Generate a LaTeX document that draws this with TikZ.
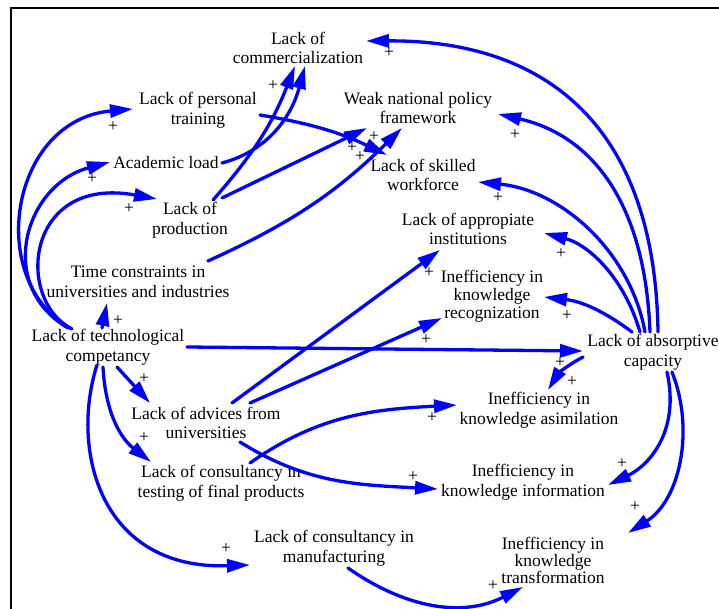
\documentclass[tikz,border=0pt]{standalone}
\usepackage{fontspec}
\setmainfont{Liberation Serif}
\usetikzlibrary{arrows.meta,calc}

\begin{document}
\begin{tikzpicture}
  [x=1pt,y=1pt,
   var/.style={align=center,inner sep=1pt,font=\fontsize{17.5}{19.5}\selectfont},
   sgn/.style={inner sep=0pt,font=\fontsize{17.5}{19.5}\selectfont},
   link/.style={draw=blue,line width=3.3pt,line cap=round,-{Triangle[length=23pt,width=13pt]}}]

  \useasboundingbox (0,0) rectangle (719,-609);
  \draw[line width=2pt] (11,-609) -- (11,-8) -- (719,-8);

  \node[var] (comm) at (298,-48) {Lack of\\commercialization};
  \node[var] (train) at (198,-110) {Lack of personal\\training};
  \node[var] (policy) at (418,-108) {Weak national policy\\framework};
  \node[var] (load) at (166,-163) {Academic load};
  \node[var] (skill) at (423,-175) {Lack of skilled\\workforce};
  \node[var] (prod) at (190,-220) {Lack of\\production};
  \node[var] (inst) at (468,-229) {Lack of appropiate\\institutions};
  \node[var] (time) at (138,-282) {Time constraints in\\universities and industries};
  \node[var,font=\fontsize{17.5}{18}\selectfont] (recog) at (492,-296) {Inefficiency in\\knowledge\\recognization};
  \node[var] (tech) at (108,-347) {Lack of technological\\competancy};
  \node[var] (absorp) at (653,-352) {Lack of absorptive\\capacity};
  \node[var] (advice) at (206,-423) {Lack of advices from\\universities};
  \node[var] (asim) at (539,-410) {Inefficiency in\\knowledge asimilation};
  \node[var] (test) at (221,-483) {Lack of consultancy in\\testing of final products};
  \node[var] (info) at (523,-482) {Inefficiency in\\knowledge information};
  \node[var] (manuf) at (334,-548) {Lack of consultancy in\\manufacturing};
  \node[var,font=\fontsize{17.5}{17}\selectfont] (transf) at (553,-560) {Inefficiency in\\knowledge\\transformation};

  % links out of technological competancy
  \draw[link] ($(tech)+(-38,19)$) .. controls +(-85,48) and +(-123,-11) .. ($(train)+(-65,1)$);
  \draw[link] ($(tech)+(-40,19)$) .. controls +(-73,43) and +(-85,-23) .. ($(load)+(-56,1)$);
  \draw[link] ($(tech)+(-36,18)$) .. controls +(-57,29) and +(-132,24) .. ($(prod)+(-33,21)$);
  \draw[link] ($(tech)+(-6,19)$) -- ($(time)+(-31,-21)$);
  \draw[link] ($(tech)+(79,0)$) -- ($(absorp)+(-70,1)$);
  \draw[link] ($(tech)+(9,-20)$) -- ($(advice)+(-56,20)$);
  \draw[link] ($(tech)+(-5,-20)$) to[out=-87,in=142] ($(test)+(-70,21)$);
  \draw[link] ($(tech)+(-11,-18)$) .. controls +(-27,-85) and +(-150,-5) .. ($(manuf)+(-84,-17)$);

  % upper links
  \draw[link] ($(prod)+(23,20)$) to[bend right=10] ($(comm)+(-3,-18)$);
  \draw[link] ($(load)+(56,0)$) to[out=15,in=-105] ($(comm)+(7,-18)$);
  \draw[link] ($(prod)+(32,22)$) -- ($(policy)+(-51,-20)$);
  \draw[link] ($(train)+(62,-5)$) to[bend left=8] ($(skill)+(-36,20)$);
  \draw[link] ($(time)+(70,21)$) to[bend right=10] ($(policy)+(-16,-20)$);

  % links out of absorptive capacity
  \draw[link] ($(absorp)+(5,20)$) .. controls +(-3,212) and +(174,1) .. ($(comm)+(68,7)$);
  \draw[link] ($(absorp)+(-3,20)$) .. controls +(-5,132) and +(92,-21) .. ($(policy)+(80,-6)$);
  \draw[link] ($(absorp)+(-8,20)$) .. controls +(-15,82) and +(82,-8) .. ($(skill)+(55,-7)$);
  \draw[link] ($(absorp)+(-13,20)$) .. controls +(-15,52) and +(46,-12) .. ($(inst)+(76,-4)$);
  \draw[link] ($(absorp)+(-21,20)$) to[bend right=15] ($(recog)+(52,-1)$);
  \draw[link] ($(absorp)+(-70,-5)$) to[bend right=15] ($(asim)+(9,20)$);
  \draw[link] ($(absorp)+(14,-20)$) .. controls +(13,-58) and +(42,20) .. ($(info)+(85,-3)$);
  \draw[link] ($(absorp)+(19,-20)$) .. controls +(23,-58) and +(52,33) .. ($(transf)+(75,27)$);

  % lower links
  \draw[link] ($(advice)+(26,20)$) -- ($(inst)+(-28,-21)$);
  \draw[link] ($(advice)+(44,20)$) -- ($(recog)+(-50,-22)$);
  \draw[link] ($(advice)+(34,-19)$) to[out=-32,in=177] ($(info)+(-85,-7)$);
  \draw[link] ($(test)+(29,20)$) to[out=35,in=183] ($(asim)+(-82,5)$);
  \draw[link] ($(manuf)+(14,-20)$) to[out=-35,in=207] ($(transf)+(-30,-27)$);

  % polarity signs
  \foreach \x/\y [count=\i] in {113/127,92/179,129/209,118/321,144/379,144/438,226/549,
      273/86,352/148,360/157,374/137,389/53,515/135,498/198,561/254,567/316,560/363,
      572/382,622/464,635/507,429/273,426/340,413/477,432/418,493/586}
    \node[sgn] (s\i) at (\x,-\y) {+};

\end{tikzpicture}
\end{document}
